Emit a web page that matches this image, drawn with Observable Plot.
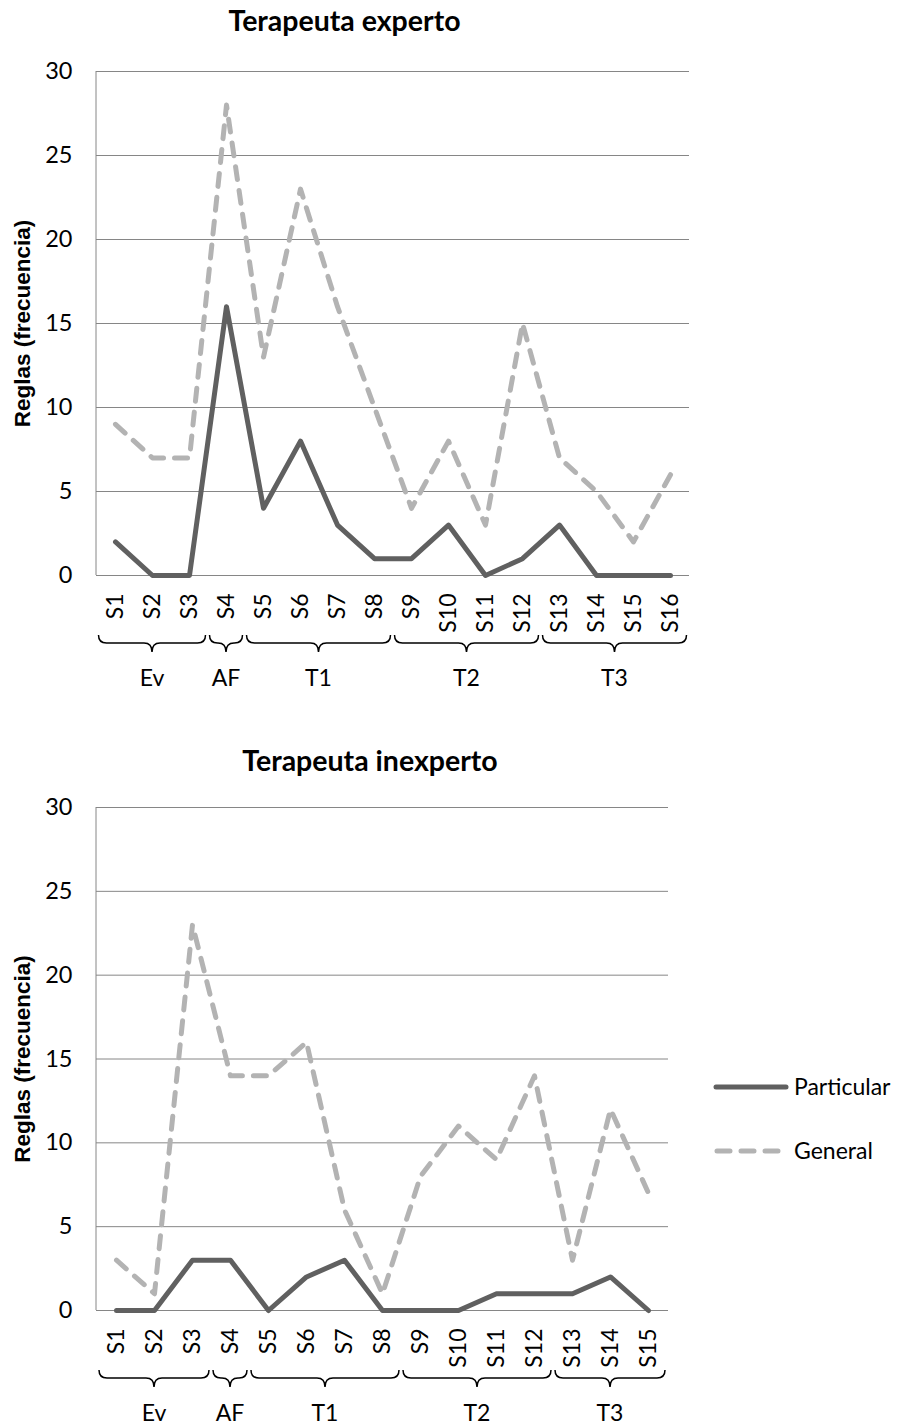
<!DOCTYPE html>
<html>
<head>
<meta charset="utf-8">
<script src="https://cdn.jsdelivr.net/npm/d3@7"></script>
<script src="https://cdn.jsdelivr.net/npm/@observablehq/plot@0.6"></script>
<style>
  html, body { margin: 0; padding: 0; background: #fff; }
  #wrap { position: relative; width: 898px; height: 1426px; overflow: hidden; }
  #top, #bottom { position: absolute; left: 0; }
  #top { top: 0; }
  #bottom { top: 730px; }
  #overlay { position: absolute; left: 0; top: 0; pointer-events: none; }
</style>
</head>
<body>
<div id="wrap">
  <div id="top"></div>
  <div id="bottom"></div>
  <svg id="overlay" width="898" height="1426"></svg>
</div>
<script>
// ---------- data ----------
const titles = ["Terapeuta experto", "Terapeuta inexperto"];
const yLabel = "Reglas (frecuencia)";
const yTicks = [0, 5, 10, 15, 20, 25, 30];
const seriesNames = ["Particular", "General"];

const sessionsExperto = ["S1","S2","S3","S4","S5","S6","S7","S8","S9","S10","S11","S12","S13","S14","S15","S16"];
const particularExperto = [2, 0, 0, 16, 4, 8, 3, 1, 1, 3, 0, 1, 3, 0, 0, 0];
const generalExperto    = [9, 7, 7, 28, 13, 23, 16, 10, 4, 8, 3, 15, 7, 5, 2, 6];

const sessionsInexperto = ["S1","S2","S3","S4","S5","S6","S7","S8","S9","S10","S11","S12","S13","S14","S15"];
const particularInexperto = [0, 0, 3, 3, 0, 2, 3, 0, 0, 0, 1, 1, 1, 2, 0];
const generalInexperto    = [3, 1, 23, 14, 14, 16, 6, 1, 8, 11, 9, 14, 3, 12, 7];

const groupLabels = ["Ev", "AF", "T1", "T2", "T3"];
const groupFromExperto = ["S1", "S4", "S5", "S9", "S13"];
const groupToExperto   = ["S3", "S4", "S8", "S12", "S16"];
const groupFromInexperto = ["S1", "S4", "S5", "S9", "S13"];
const groupToInexperto   = ["S3", "S4", "S8", "S12", "S15"];

// ---------- style ----------
const colParticular = "#606060";
const colGeneral = "#b3b3b3";
const colGrid = "#868686";
const tickFont = "Lato, 'Open Sans', sans-serif";

function makeChart({sessions, particular, general, from, to, width, height, marginTop, marginBottom, marginRight, marginLeft}) {
  const rows = [];
  sessions.forEach((s, i) => {
    rows.push({session: s, serie: seriesNames[0], value: particular[i]});
    rows.push({session: s, serie: seriesNames[1], value: general[i]});
  });
  const groups = groupLabels.map((g, i) => ({label: g, from: from[i], to: to[i]}));

  const leftAxisLine = (index, scales, values, dims) =>
    d3.create("svg:line")
      .attr("x1", dims.marginLeft).attr("x2", dims.marginLeft)
      .attr("y1", dims.marginTop).attr("y2", dims.height - dims.marginBottom)
      .attr("stroke", colGrid).attr("stroke-width", 1)
      .node();

  const braces = (index, scales, values, dims) => {
    const x = scales.x, y = scales.y;
    const step = x(sessions[1]) - x(sessions[0]);
    const y0 = y(0);
    const g = d3.create("svg:g");
    for (const gr of groups) {
      const L = x(gr.from) - step / 2 + 2;
      const R = x(gr.to) + step / 2 - 2;
      const C = (L + R) / 2;
      const top = y0 + 60, mid = y0 + 68, tip = y0 + 77, r = 8;
      g.append("path")
        .attr("fill", "none").attr("stroke", "#000").attr("stroke-width", 1.5)
        .attr("d", `M${L},${top}Q${L},${mid} ${L + r},${mid}H${C - r}Q${C},${mid} ${C},${tip}Q${C},${mid} ${C + r},${mid}H${R - r}Q${R},${mid} ${R},${top}`);
      g.append("text")
        .attr("x", C).attr("y", y0 + 111)
        .attr("text-anchor", "middle")
        .attr("font-family", tickFont).attr("font-size", 23).attr("fill", "#000")
        .text(gr.label);
    }
    return g.node();
  };

  return Plot.plot({
    width, height, marginTop, marginBottom, marginRight, marginLeft,
    style: {fontFamily: tickFont, fontSize: "23px", color: "#000", background: "transparent"},
    x: {type: "point", domain: sessions, padding: 0.5, label: null},
    y: {domain: [0, 30], label: null},
    marks: [
      Plot.gridY({ticks: yTicks, stroke: colGrid, strokeOpacity: 1, strokeWidth: 1}),
      leftAxisLine,
      Plot.axisY({ticks: yTicks, tickSize: 0, tickPadding: 24, fontSize: 23.5, label: null}),
      Plot.axisX({tickRotate: -90, tickSize: 0, tickPadding: 18, fontSize: 23, label: null}),
      Plot.text([yLabel], {text: d => d, frameAnchor: "left", textAnchor: "middle", lineAnchor: "middle",
        rotate: -90, dx: -74,
        fontWeight: "bold", fontFamily: "'Liberation Sans', Arial, sans-serif", fontSize: 22.5}),
      Plot.line(rows, {filter: d => d.serie === seriesNames[0], x: "session", y: "value",
        stroke: colParticular, strokeWidth: 5, strokeLinecap: "round", strokeLinejoin: "round"}),
      Plot.line(rows, {filter: d => d.serie === seriesNames[1], x: "session", y: "value",
        stroke: colGeneral, strokeWidth: 5, strokeDasharray: "13,11", strokeLinecap: "round", strokeLinejoin: "round"}),
      braces
    ]
  });
}

document.getElementById("top").append(makeChart({
  sessions: sessionsExperto, particular: particularExperto, general: generalExperto,
  from: groupFromExperto, to: groupToExperto,
  width: 898, height: 700, marginTop: 71, marginBottom: 125, marginLeft: 96, marginRight: 898 - 689
}));

document.getElementById("bottom").append(makeChart({
  sessions: sessionsInexperto, particular: particularInexperto, general: generalInexperto,
  from: groupFromInexperto, to: groupToInexperto,
  width: 898, height: 696, marginTop: 77, marginBottom: 116, marginLeft: 96, marginRight: 898 - 668
}));

// ---------- titles & legend ----------
const ov = d3.select("#overlay");
ov.append("text").attr("x", 344.5).attr("y", 31).attr("text-anchor", "middle")
  .attr("font-family", tickFont).attr("font-weight", "bold").attr("font-size", 28.5).text(titles[0]);
ov.append("text").attr("x", 370).attr("y", 771).attr("text-anchor", "middle")
  .attr("font-family", tickFont).attr("font-weight", "bold").attr("font-size", 28.5).text(titles[1]);

const legendY = [1087, 1151];
ov.append("line").attr("x1", 716).attr("x2", 786).attr("y1", legendY[0]).attr("y2", legendY[0])
  .attr("stroke", colParticular).attr("stroke-width", 5).attr("stroke-linecap", "round");
ov.append("line").attr("x1", 717).attr("x2", 779).attr("y1", legendY[1]).attr("y2", legendY[1])
  .attr("stroke", colGeneral).attr("stroke-width", 5).attr("stroke-linecap", "round").attr("stroke-dasharray", "13,11");
seriesNames.forEach((s, i) => {
  ov.append("text").attr("x", 794).attr("y", legendY[i] + 8)
    .attr("font-family", tickFont).attr("font-size", 23).attr("fill", "#000").text(s);
});
</script>
</body>
</html>
